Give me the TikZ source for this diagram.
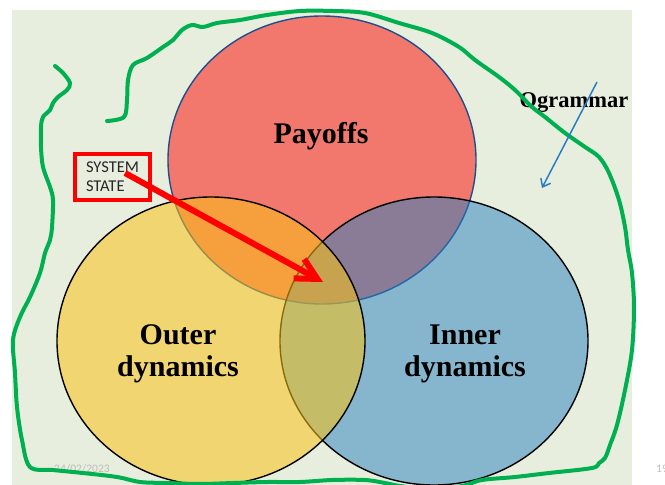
\documentclass[tikz,border=0pt]{standalone}
\usepackage{fontspec}
\setmainfont{Liberation Serif}
\newfontfamily\calib{Carlito}
\usetikzlibrary{arrows.meta, shapes.geometric}
\definecolor{slidebg}{HTML}{E7EEDE}
\definecolor{payred}{HTML}{F2786E}
\definecolor{payline}{HTML}{1F4E8C}
\definecolor{outeryel}{RGB}{250,194,22}
\definecolor{innerblu}{RGB}{36,128,190}
\definecolor{pengreen}{HTML}{00B050}
\definecolor{qblue}{HTML}{2A7DC4}
\definecolor{datagray}{HTML}{BDBDBD}

\begin{document}
\begin{tikzpicture}[x=1pt, y=-1pt,
    venn/.style={
      ellipse, minimum width=308pt, minimum height=288pt,
      inner sep=0pt, line width=1.4pt
    },
    bigtext/.style={
      font=\fontsize{30}{32}\selectfont\bfseries, align=center, inner sep=0pt
    },
    sysbox/.style={
      rectangle, draw=red, line width=4pt, minimum width=75pt, minimum height=46pt,
      align=left, inner sep=0pt, text=black!85,
      font=\calib\fontsize{16.5}{19}\selectfont
    },
    slidenote/.style={font=\calib\fontsize{11.5}{13}\selectfont, text=datagray, inner sep=0pt},
    pen/.style={draw=pengreen, line width=4pt, line cap=round, line join=round},
    redarr/.style={-{Straight Barb[length=21pt, width=22pt]}, draw=red, line width=6pt},
    qarr/.style={-{Straight Barb[length=7pt, width=11pt]}, draw=qblue, line width=1.5pt},
  ]
  \useasboundingbox (0,0) rectangle (665,485);
  \fill[slidebg] (12,10) rectangle (632,485);

  % the three sets
  \node[venn, fill=payred, draw=payline]                       (pay)   at (322,160) {};
  \node[venn, fill=innerblu, fill opacity=0.5, draw=black]     (inner) at (434,341) {};
  \node[venn, fill=outeryel, fill opacity=0.55, draw=black]    (outer) at (211,341) {};

  \node[bigtext, anchor=base] (paylbl)   at (321,143) {Payoffs};
  \node[bigtext]              (outerlbl) at (178,354) {Outer\\dynamics};
  \node[bigtext]              (innerlbl) at (465,354) {Inner\\dynamics};
  \node[font=\fontsize{22.5}{24}\selectfont\bfseries, anchor=base, inner sep=0pt]
    (ogram) at (574,107) {Ogrammar};

  \node[sysbox] (sys) at (112.5,177) {SYSTEM\\STATE};

  \node[slidenote, anchor=base west] (date) at (54,472) {24/02/2023};
  \node[slidenote, anchor=base west] (page) at (656,472) {19};

  % hand-drawn pen strokes
  \draw[pen] plot[smooth, tension=0.55] coordinates {
    (107,121) (124,117) (127,100) (128,80) (133,65) (147,58) (163,47) (173,40)
    (182,30) (192,25) (203,27) (217,23) (240,20) (267,15) (300,11) (333,11)
    (365,13) (399,23) (432,33) (459,47) (475,60) (499,77) (515,90) (532,107)
    (545,117) (565,133) (585,147) (599,157) (609,173) (619,200) (625,227)
    (628,250) (632,273) (634,307) (632,350) (625,390) (617,425) (610,445)
    (605,458) (599,463) (592,468) (549,473) (515,477) (482,480) (462,486)
    (430,489) (400,486) (385,483) (365,480) (332,480) (300,482) (267,482)
    (233,483) (200,484) (167,483) (140,482) (117,477) (83,473) (53,470)
    (30,467) (22,440) (17,407) (15,373) (13,340) (20,317) (30,297) (40,273)
    (45,253) (50,240) (52,227) (53,200) (50,187) (43,167) (41,147) (41,127)
    (43,117) (50,110) (53,103) (58,97) (67,90) (70,83) (63,73) (55,66)};

  \coordinate (sysfrom) at (125,173);
  \coordinate (systo)   at (323,282);
  \draw[redarr] (sysfrom) -- (systo);

  \coordinate (qfrom) at (597,82);
  \coordinate (qto)   at (542,188);
  \draw[qarr] (qfrom) -- (qto);
\end{tikzpicture}
\end{document}
